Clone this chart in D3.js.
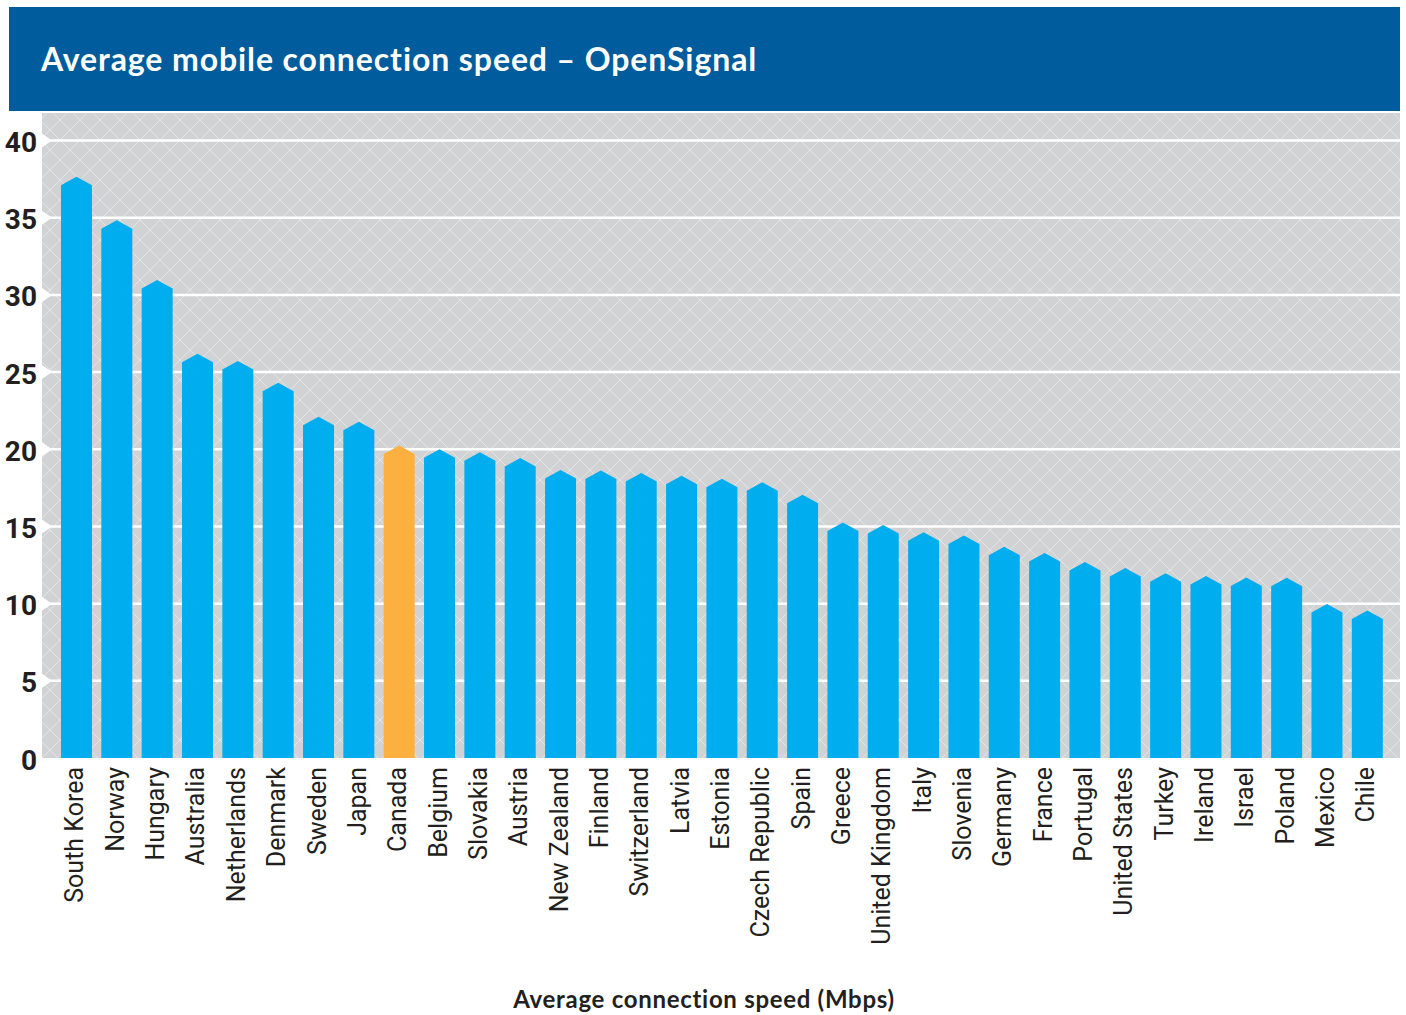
<!DOCTYPE html>
<html>
<head>
<meta charset="utf-8">
<script src="https://cdn.jsdelivr.net/npm/d3@7"></script>
<style>
  html, body { margin: 0; padding: 0; background: #ffffff; }
  svg { display: block; }
</style>
</head>
<body>
<div id="chart"></div>
<script>
// Average mobile connection speed by country (Mbps), OpenSignal
const countries = [
  "South Korea", "Norway", "Hungary", "Australia", "Netherlands", "Denmark",
  "Sweden", "Japan", "Canada", "Belgium", "Slovakia", "Austria", "New Zealand",
  "Finland", "Switzerland", "Latvia", "Estonia", "Czech Republic", "Spain",
  "Greece", "United Kingdom", "Italy", "Slovenia", "Germany", "France",
  "Portugal", "United States", "Turkey", "Ireland", "Israel", "Poland",
  "Mexico", "Chile"
];
const speeds = [
  37.65, 34.84, 30.96, 26.19, 25.71, 24.31,
  22.10, 21.78, 20.25, 20.00, 19.80, 19.43, 18.65,
  18.63, 18.46, 18.28, 18.09, 17.86, 17.05,
  15.25, 15.09, 14.62, 14.42, 13.69, 13.28,
  12.69, 12.31, 11.96, 11.79, 11.70, 11.68,
  9.97, 9.56
];
const highlighted = ["Canada"];
const yTicks = [0, 5, 10, 15, 20, 25, 30, 35, 40];

const titleText = "Average mobile connection speed \u2013 OpenSignal";
const axisTitle = "Average connection speed (Mbps)";

const W = 1406, H = 1015;
const plot = { left: 42, right: 1400, top: 113, bottom: 758 };

const svg = d3.select("#chart").append("svg")
  .attr("width", W).attr("height", H);

// Crosshatch fill for the plot background
const defs = svg.append("defs");
const pat = defs.append("pattern")
  .attr("id", "hatch")
  .attr("patternUnits", "userSpaceOnUse")
  .attr("width", 20).attr("height", 20);
pat.append("rect").attr("width", 20).attr("height", 20).attr("fill", "#d1d2d4");
pat.append("path")
  .attr("d", "M0,0 L20,20 M20,0 L0,20 M-2,18 L2,22 M18,-2 L22,2 M-2,2 L2,-2 M18,22 L22,18")
  .attr("stroke", "#e3e4e5").attr("stroke-width", 1).attr("fill", "none");

// Title band
svg.append("rect")
  .attr("x", 9).attr("y", 7).attr("width", 1391).attr("height", 104)
  .attr("fill", "#005c9c");
svg.append("text")
  .attr("x", 41).attr("y", 71)
  .attr("fill", "#ffffff")
  .attr("font-family", "Lato, 'Open Sans', sans-serif")
  .attr("font-weight", 700)
  .attr("font-size", 32)
  .attr("letter-spacing", 0.9)
  .text(titleText);

// Scales
const x = d3.scaleBand()
  .domain(countries)
  .range([56.3, 1387.5])
  .paddingInner(0.2315)
  .paddingOuter(0.116);
const y = d3.scaleLinear().domain([0, 40]).range([758, 140.5]);

// Plot background
svg.append("rect")
  .attr("x", plot.left).attr("y", plot.top)
  .attr("width", plot.right - plot.left)
  .attr("height", plot.bottom - plot.top)
  .attr("fill", "url(#hatch)");

// Gridlines
svg.append("g").selectAll("line")
  .data(yTicks.filter(t => t > 0))
  .join("line")
  .attr("x1", plot.left).attr("x2", plot.right)
  .attr("y1", d => y(d)).attr("y2", d => y(d))
  .attr("stroke", "#ffffff").attr("stroke-width", 2.5);

// White notches on the left edge at each tick
svg.append("g").selectAll("path")
  .data(yTicks.filter(t => t > 0))
  .join("path")
  .attr("d", d => `M${plot.left},${y(d) - 7} L${plot.left + 10},${y(d)} L${plot.left},${y(d) + 7} Z`)
  .attr("fill", "#ffffff");

// Bars with a pointed roof
const roof = 8.5;
svg.append("g").selectAll("path")
  .data(countries.map((c, i) => ({ country: c, value: speeds[i] })))
  .join("path")
  .attr("d", d => {
    const x0 = x(d.country), x1 = x0 + x.bandwidth(), cx = x0 + x.bandwidth() / 2;
    const top = y(d.value), base = y(0);
    return `M${x0},${base} L${x0},${top + roof} L${cx},${top} L${x1},${top + roof} L${x1},${base} Z`;
  })
  .attr("fill", d => highlighted.includes(d.country) ? "#fbb040" : "#00aeef");

// Y axis labels
const yAxis = d3.axisLeft(y).tickValues(yTicks).tickSize(0).tickPadding(0);
const gy = svg.append("g").attr("transform", "translate(37,0)").call(yAxis);
gy.select(".domain").remove();
gy.selectAll("text")
  .attr("x", 0)
  .attr("dy", null)
  .attr("dominant-baseline", "auto")
  .attr("transform", "translate(0,11)")
  .attr("fill", "#231f20")
  .attr("font-family", "Roboto, sans-serif")
  .attr("font-weight", 700)
  .attr("font-size", 28);

// Category labels, rotated
const xAxis = d3.axisBottom(x).tickSize(0).tickPadding(0);
const gx = svg.append("g").attr("transform", `translate(0,${plot.bottom})`).call(xAxis);
gx.select(".domain").remove();
gx.selectAll("text")
  .attr("x", 0).attr("y", 0).attr("dy", null)
  .attr("text-anchor", "end")
  .attr("transform", "translate(7,9) rotate(-90)")
  .attr("fill", "#231f20")
  .attr("font-family", "Roboto, sans-serif")
  .attr("font-weight", 400)
  .attr("font-size", 25);

// Axis title
svg.append("text")
  .attr("x", 704).attr("y", 1008)
  .attr("text-anchor", "middle")
  .attr("fill", "#231f20")
  .attr("font-family", "Lato, 'Open Sans', sans-serif")
  .attr("font-weight", 700)
  .attr("font-size", 24)
  .attr("letter-spacing", 0.7)
  .text(axisTitle);
</script>
</body>
</html>
